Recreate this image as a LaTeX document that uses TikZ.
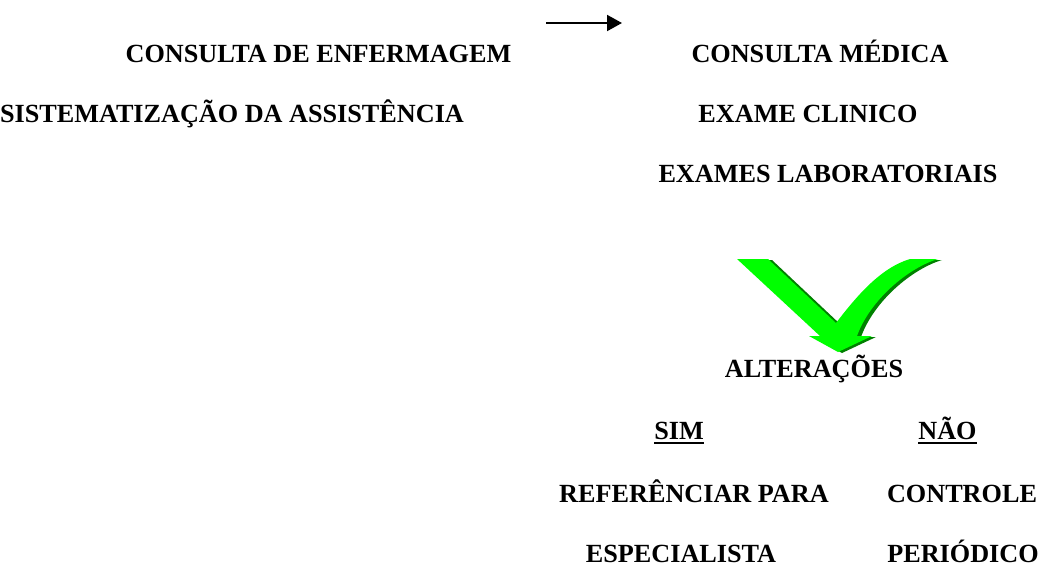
\documentclass[tikz,border=0pt]{standalone}
\usepackage{fontspec}
\setmainfont{Liberation Serif}
\usetikzlibrary{arrows.meta}
\definecolor{chkgreen}{HTML}{00FF00}
\definecolor{chkshade}{HTML}{008000}
\newcommand{\ulword}[1]{\setbox0\hbox{#1}\rlap{\rule[-5pt]{\wd0}{2pt}}\box0}
\newcommand{\chkpath}{(737,259) -- (768,259) -- (836,323)
  .. controls (856,297) and (880,268) .. (910,259) -- (938,259)
  .. controls (908,268) and (870,300) .. (857,336) -- (872,336)
  -- (838,352) -- (809,336) -- (820,336) -- cycle}
\tikzset{
  lbl/.style={anchor=base,inner sep=0pt,font=\fontsize{26.2}{30}\selectfont\bfseries}
}
\begin{document}
\begin{tikzpicture}[x=1pt,y=-1pt]
\useasboundingbox (0,0) rectangle (1042,568);

% left column
\node[lbl] (consEnf) at (318.5,62) {CONSULTA DE ENFERMAGEM};
\node[lbl] (sistAss) at (232,122) {SISTEMATIZAÇÃO DA ASSISTÊNCIA};

% right column
\node[lbl] (consMed) at (820,62) {CONSULTA MÉDICA};
\node[lbl] (exClin) at (808,122) {EXAME CLINICO};
\node[lbl] (exLab) at (828,182) {EXAMES LABORATORIAIS};

\coordinate (arrS) at (546,23);
\coordinate (arrE) at (622,23);
\draw[line width=2pt,-{Triangle[length=15pt,width=16pt]}] (arrS) -- (arrE);

% green arrow with shadow
\begin{scope}[shift={(4,1)}]
\fill[chkshade] \chkpath;
\end{scope}
\fill[chkgreen] \chkpath;

\node[lbl] (alter) at (814,377) {ALTERAÇÕES};
\node[lbl] (sim) at (679,439) {\ulword{SIM}};
\node[lbl] (nao) at (947.5,439) {\ulword{NÃO}};
\node[lbl] (refPara) at (694,502) {REFERÊNCIAR PARA};
\node[lbl] (espec) at (681,562) {ESPECIALISTA};
\node[lbl] (contr) at (962,502) {CONTROLE};
\node[lbl] (perio) at (963,562) {PERIÓDICO};
\end{tikzpicture}
\end{document}
